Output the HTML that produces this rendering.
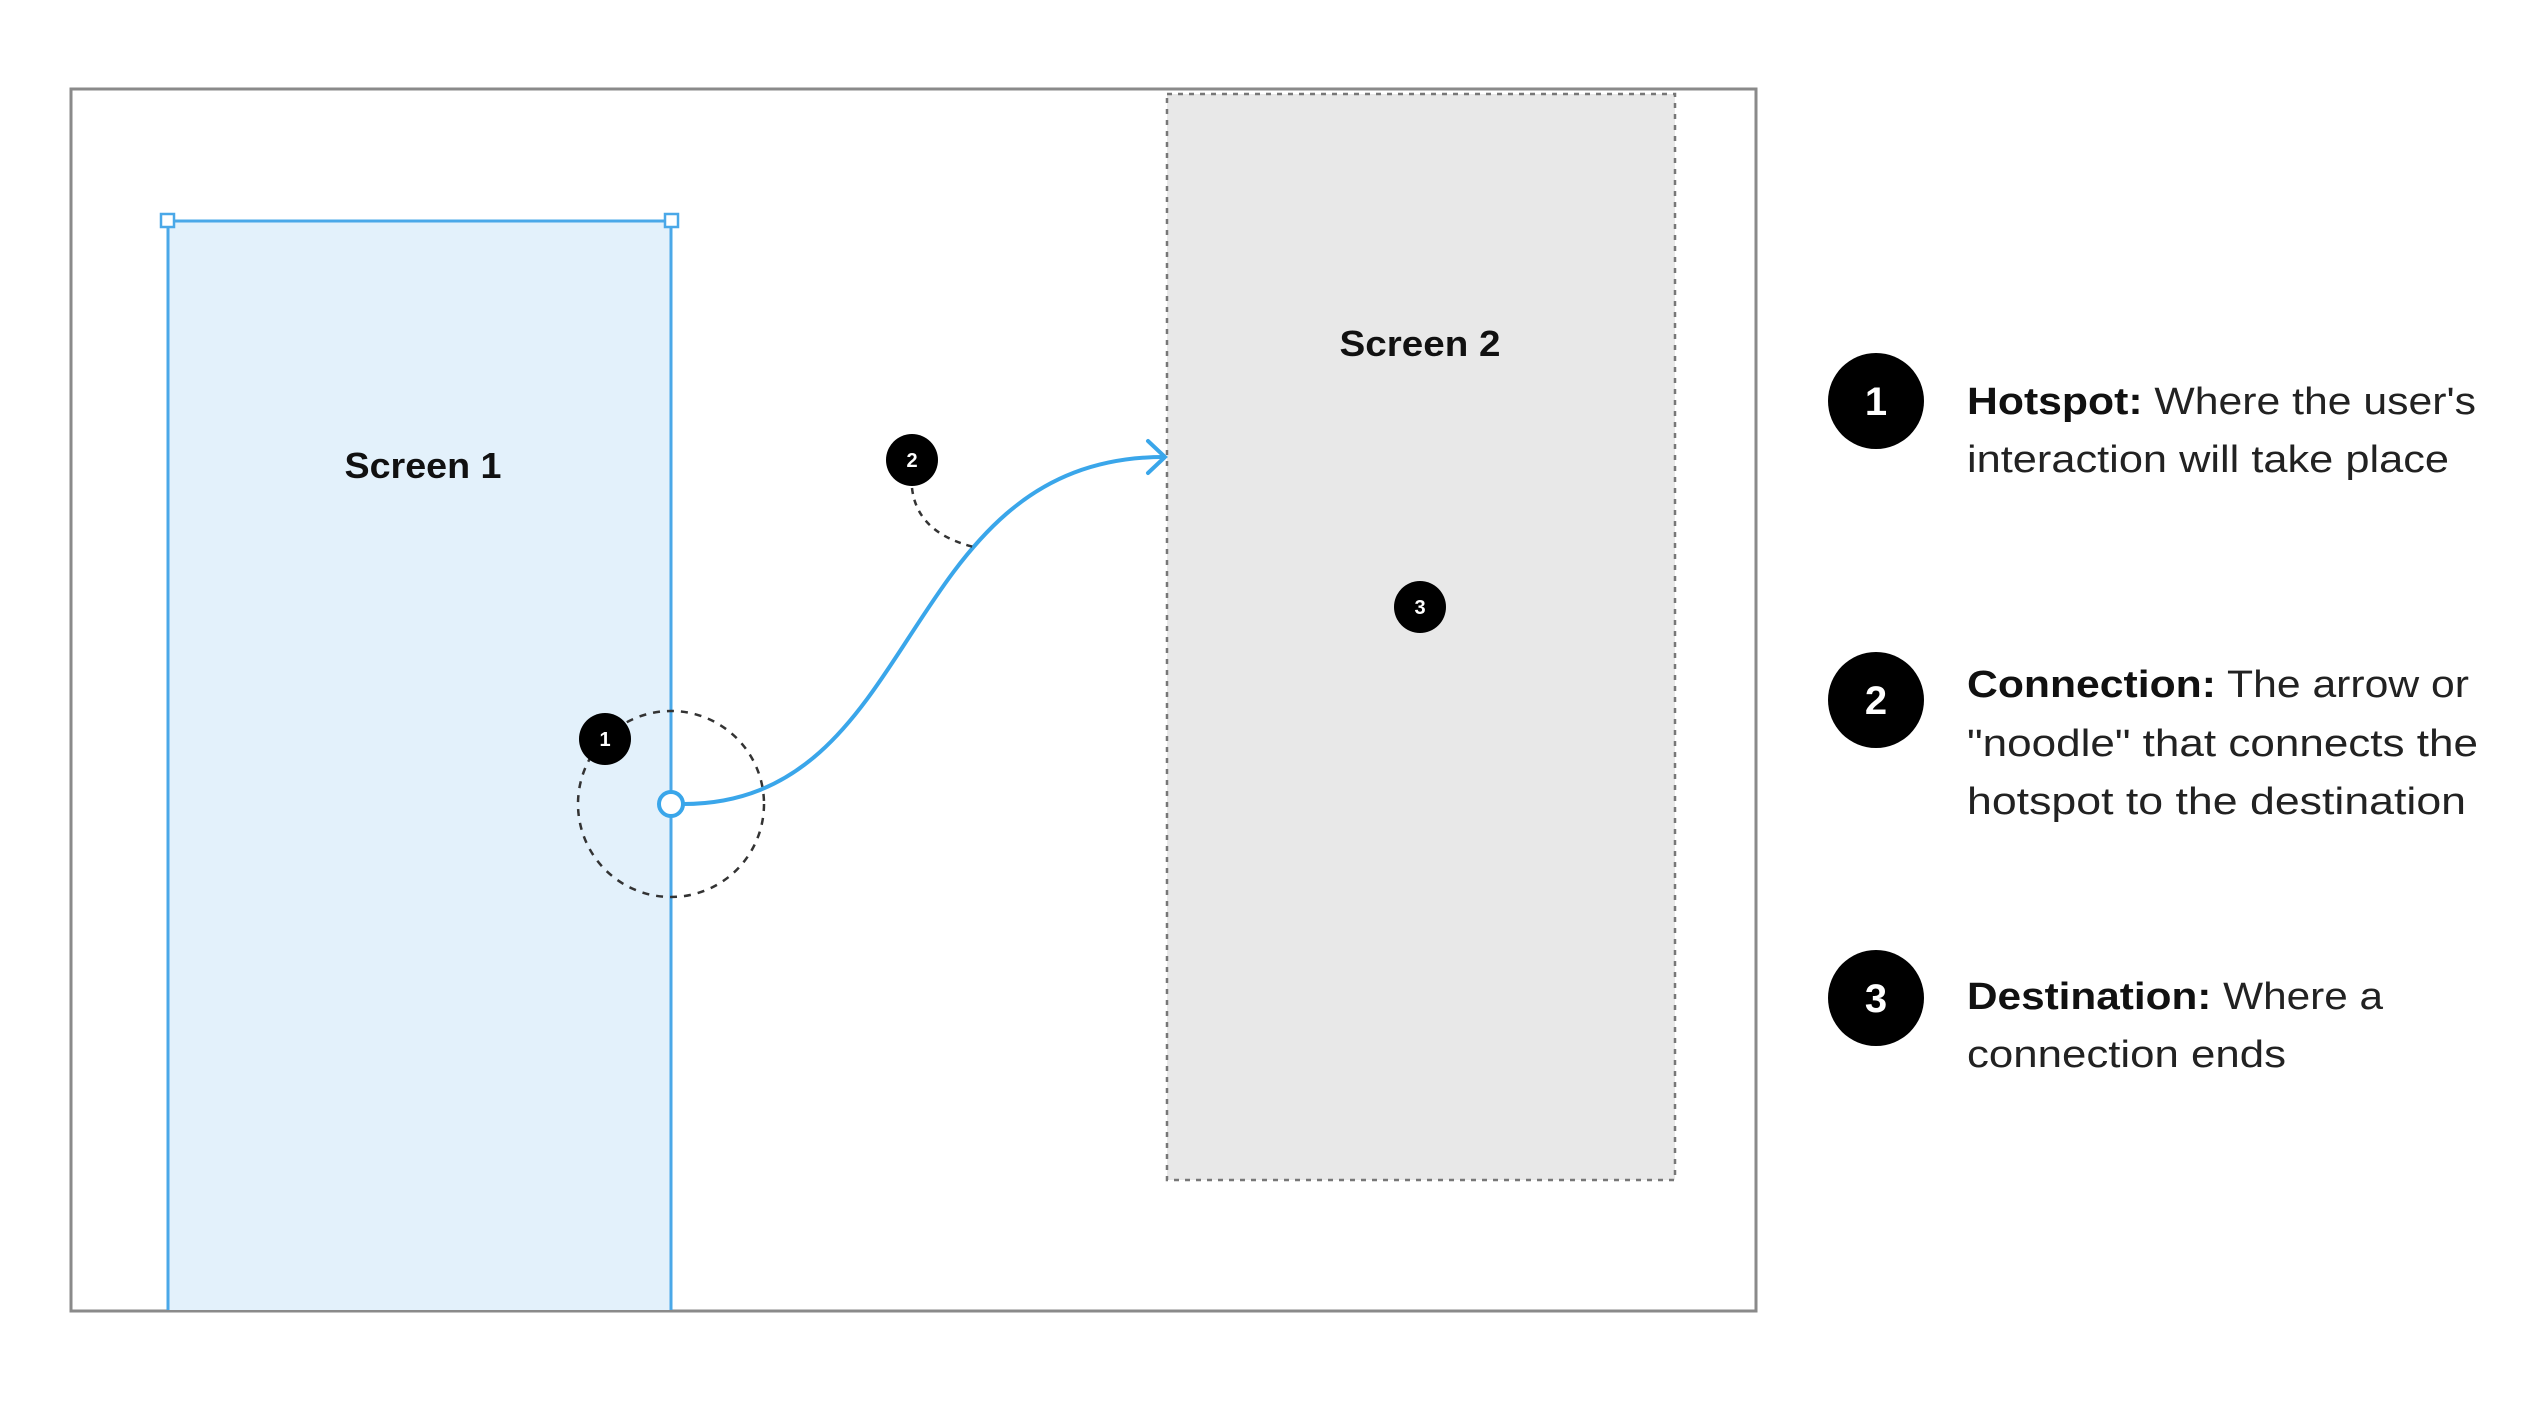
<!DOCTYPE html>
<html><head><meta charset="utf-8"><style>
html,body{margin:0;padding:0;background:#fff;}
svg{display:block;}
text{font-family:"Liberation Sans",sans-serif;}
</style></head><body>
<svg width="2530" height="1408" viewBox="0 0 2530 1408" xmlns="http://www.w3.org/2000/svg">
<rect x="0" y="0" width="2530" height="1408" fill="#fff"/>
<rect x="71" y="89" width="1685" height="1222" fill="#fff" stroke="#8a8a8a" stroke-width="3"/>
<rect x="1167" y="94" width="508" height="1086" fill="#e8e8e8" stroke="#777" stroke-width="2.5" stroke-dasharray="5 6"/>
<rect x="168" y="221" width="503" height="1089" fill="#e3f1fb"/>
<path d="M168,1310 V221 H671 V1310" fill="none" stroke="#4aa8e8" stroke-width="3"/>
<rect x="161" y="214" width="13" height="13" fill="#fff" stroke="#4aa8e8" stroke-width="2.5"/>
<rect x="665" y="214" width="13" height="13" fill="#fff" stroke="#4aa8e8" stroke-width="2.5"/>
<text x="423" y="478" font-size="36" font-weight="bold" text-anchor="middle" fill="#111" textLength="157" lengthAdjust="spacingAndGlyphs">Screen 1</text>
<text x="1420" y="356" font-size="36" font-weight="bold" text-anchor="middle" fill="#111" textLength="161" lengthAdjust="spacingAndGlyphs">Screen 2</text>
<circle cx="671" cy="804" r="93" fill="none" stroke="#333" stroke-width="2.5" stroke-dasharray="7 7"/>
<path d="M683,804 C925,804 895,457 1164,457" fill="none" stroke="#3aa6ea" stroke-width="4"/>
<path d="M1148,441 L1165,457 L1148,473" fill="none" stroke="#3aa6ea" stroke-width="4" stroke-linecap="round"/>
<circle cx="671" cy="804" r="12" fill="#fff" stroke="#3aa6ea" stroke-width="4"/>
<path d="M912,488 Q917,533 974,547" fill="none" stroke="#333" stroke-width="2.5" stroke-dasharray="6 6"/>
<g font-size="20" font-weight="bold" fill="#fff" text-anchor="middle">
<circle cx="605" cy="739" r="26" fill="#000"/><text x="605" y="746">1</text>
<circle cx="912" cy="460" r="26" fill="#000"/><text x="912" y="467">2</text>
<circle cx="1420" cy="607" r="26" fill="#000"/><text x="1420" y="614">3</text>
</g>
<g font-size="40" font-weight="bold" fill="#fff" text-anchor="middle">
<circle cx="1876" cy="401" r="48" fill="#000"/><text x="1876" y="415">1</text>
<circle cx="1876" cy="700" r="48" fill="#000"/><text x="1876" y="714">2</text>
<circle cx="1876" cy="998" r="48" fill="#000"/><text x="1876" y="1012">3</text>
</g>
<g font-size="38" fill="#222">
<text x="1967" y="414" textLength="509" lengthAdjust="spacingAndGlyphs"><tspan font-weight="bold" fill="#111">Hotspot:</tspan> Where the user's</text>
<text x="1967" y="472" textLength="482" lengthAdjust="spacingAndGlyphs">interaction will take place</text>
<text x="1967" y="697" textLength="502" lengthAdjust="spacingAndGlyphs"><tspan font-weight="bold" fill="#111">Connection:</tspan> The arrow or</text>
<text x="1967" y="756" textLength="511" lengthAdjust="spacingAndGlyphs">"noodle" that connects the</text>
<text x="1967" y="814" textLength="499" lengthAdjust="spacingAndGlyphs">hotspot to the destination</text>
<text x="1967" y="1009" textLength="416" lengthAdjust="spacingAndGlyphs"><tspan font-weight="bold" fill="#111">Destination:</tspan> Where a</text>
<text x="1967" y="1067" textLength="319" lengthAdjust="spacingAndGlyphs">connection ends</text>
</g>
</svg>
</body></html>
